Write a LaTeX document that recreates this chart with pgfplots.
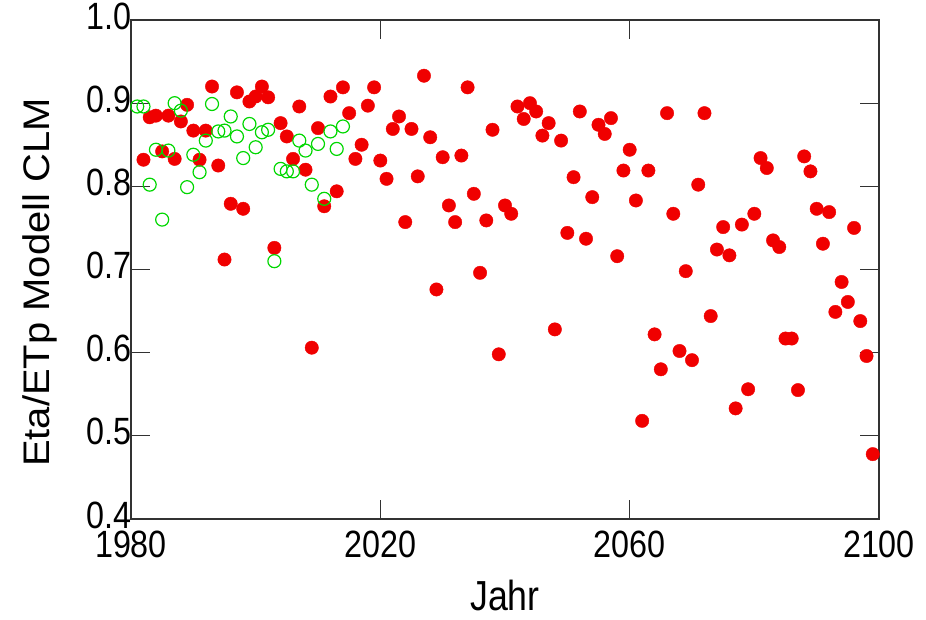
\documentclass[border=0pt]{standalone}
\usepackage{pgfplots}
\pgfplotsset{compat=1.18}
\usepackage{fontspec}
\setmainfont{Liberation Sans}
\newfontfamily\tickfont{Liberation Sans}[FakeStretch=0.85]
\newfontfamily\ylabfont{Liberation Sans}[FakeStretch=1.08]
\definecolor{dotred}{RGB}{240,0,0}
\definecolor{ringgreen}{RGB}{0,215,0}
\definecolor{axgray}{RGB}{50,50,50}
\begin{document}
\begin{tikzpicture}
\useasboundingbox (-131pt,-100pt) rectangle (795pt,519pt);
\begin{axis}[
  scale only axis,
  width=748pt, height=499pt,
  xmin=1980, xmax=2100, ymin=0.4, ymax=1.0,
  xtick={1980,2020,2060,2100},
  ytick={0.4,0.5,0.6,0.7,0.8,0.9,1.0},
  tick align=inside,
  major tick length=19pt,
  tick style={axgray, line width=1.3pt},
  axis line style={axgray, line width=1.3pt},
  /pgf/number format/assume math mode=true,
  /pgf/number format/1000 sep={},
  yticklabel style={/pgf/number format/fixed, /pgf/number format/precision=1, /pgf/number format/fixed zerofill, font=\tickfont\fontsize{38}{38}\selectfont, xshift=4pt, yshift=4pt},
  xticklabel style={font=\tickfont\fontsize{38}{38}\selectfont, yshift=-8pt},
  xlabel={Jahr},
  ylabel={Eta/ETp Modell CLM},
  xlabel style={font=\tickfont\fontsize{42}{42}\selectfont, at={(axis description cs:0.5,-0.154)}, anchor=center},
  ylabel style={font=\ylabfont\fontsize{37}{37}\selectfont, at={(axis description cs:-0.122,0.474)}, anchor=center},
  clip=false,
]
\addplot[only marks, mark=*, mark size=6.7pt, mark options={draw=dotred, fill=dotred}] coordinates {
(1982,0.832) (1983,0.883) (1984,0.885) (1985,0.842) (1986,0.885) (1987,0.833) (1988,0.878) (1989,0.898)
(1990,0.867) (1991,0.832) (1992,0.867) (1993,0.920) (1994,0.825) (1995,0.712) (1996,0.779) (1997,0.913)
(1998,0.773) (1999,0.902) (2000,0.908) (2001,0.920) (2002,0.907) (2003,0.726) (2004,0.876) (2005,0.860)
(2006,0.833) (2007,0.896) (2008,0.820) (2009,0.606) (2010,0.870) (2011,0.776) (2012,0.908) (2013,0.794)
(2014,0.919) (2015,0.888) (2016,0.833) (2017,0.850) (2018,0.897) (2019,0.919) (2020,0.831) (2021,0.809)
(2022,0.869) (2023,0.884) (2024,0.757) (2025,0.869) (2026,0.812) (2027,0.933) (2028,0.859) (2029,0.676)
(2030,0.835) (2031,0.777) (2032,0.757) (2033,0.837) (2034,0.919) (2035,0.791) (2036,0.696) (2037,0.759)
(2038,0.868) (2039,0.598) (2040,0.777) (2041,0.767) (2042,0.896) (2043,0.881) (2044,0.900) (2045,0.890)
(2046,0.861) (2047,0.876) (2048,0.628) (2049,0.855) (2050,0.744) (2051,0.811) (2052,0.890) (2053,0.737)
(2054,0.787) (2055,0.874) (2056,0.863) (2057,0.882) (2058,0.716) (2059,0.819) (2060,0.844) (2061,0.783)
(2062,0.518) (2063,0.819) (2064,0.622) (2065,0.580) (2066,0.888) (2067,0.767) (2068,0.602) (2069,0.698)
(2070,0.591) (2071,0.802) (2072,0.888) (2073,0.644) (2074,0.724) (2075,0.751) (2076,0.717) (2077,0.533)
(2078,0.754) (2079,0.556) (2080,0.767) (2081,0.834) (2082,0.822) (2083,0.735) (2084,0.727) (2085,0.617)
(2086,0.617) (2087,0.555) (2088,0.836) (2089,0.818) (2090,0.773) (2091,0.731) (2092,0.769) (2093,0.649)
(2094,0.685) (2095,0.661) (2096,0.750) (2097,0.638) (2098,0.596) (2099,0.478)
};
\addplot[only marks, mark=o, mark size=6.5pt, mark options={draw=ringgreen, line width=1.2pt}] coordinates {
(1981,0.896) (1982,0.896) (1983,0.802) (1984,0.844) (1985,0.760) (1986,0.843) (1987,0.900) (1988,0.891)
(1989,0.799) (1990,0.838) (1991,0.817) (1992,0.855) (1993,0.899) (1994,0.866) (1995,0.867) (1996,0.884)
(1997,0.860) (1998,0.834) (1999,0.875) (2000,0.847) (2001,0.865) (2002,0.868) (2003,0.710) (2004,0.821)
(2005,0.818) (2006,0.818) (2007,0.855) (2008,0.843) (2009,0.802) (2010,0.851) (2011,0.785) (2012,0.866)
(2013,0.845) (2014,0.872)
};
\end{axis}
\end{tikzpicture}
\end{document}
